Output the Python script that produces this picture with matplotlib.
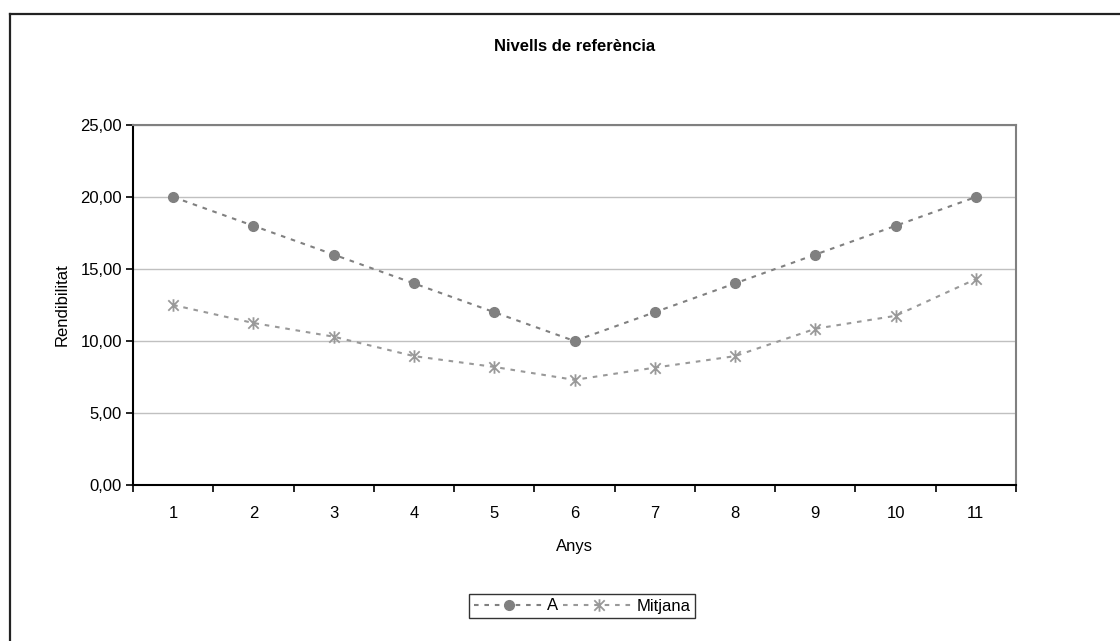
import matplotlib
matplotlib.use("Agg")
import matplotlib.pyplot as plt
from matplotlib.path import Path
from matplotlib.lines import Line2D
from matplotlib.ticker import FixedLocator, FuncFormatter

plt.rcParams['font.family'] = ['Liberation Sans', 'DejaVu Sans']

# Dades
anys = list(range(1, 12))
serie_a = [20, 18, 16, 14, 12, 10, 12, 14, 16, 18, 20]
mitjana = [12.5, 11.25, 10.3, 8.95, 8.2, 7.3, 8.15, 8.95, 10.85, 11.75, 14.3]
y_ticks = [0, 5, 10, 15, 20, 25]

titol = "Nivells de referència"
etiqueta_x = "Anys"
etiqueta_y = "Rendibilitat"

# Marcador d'estrella: aspa amb una barra vertical
estrella = Path(
    [(-1, -1), (1, 1), (-1, 1), (1, -1), (0, -1.2), (0, 1.2)],
    [Path.MOVETO, Path.LINETO, Path.MOVETO, Path.LINETO, Path.MOVETO, Path.LINETO],
)

fig = plt.figure(figsize=(11.2, 6.41), dpi=100)
ax = fig.add_axes([133 / 1120, 1 - 485 / 641, (1016 - 133) / 1120, (485 - 125) / 641])

ax.set_ylim(0, 25)
ax.set_xlim(0.5, 11.5)

ax.yaxis.set_major_locator(FixedLocator(y_ticks))
ax.yaxis.set_major_formatter(FuncFormatter(lambda v, p: f"{v:.2f}".replace(".", ",")))
ax.grid(axis='y', color='#c0c0c0', linewidth=1.0)
ax.set_axisbelow(True)

# Marques de l'eix X entre categories, etiquetes centrades
ax.set_xticks([a + 0.5 for a in [0] + anys])
ax.set_xticklabels([])
ax.set_xticks(anys, minor=True)
ax.set_xticklabels([str(a) for a in anys], minor=True)
ax.tick_params(axis='x', which='minor', length=0, labelsize=12, pad=15)
ax.tick_params(axis='x', which='major', length=5, width=1.2, direction='out', color='black')
ax.tick_params(axis='y', length=5, width=1.2, direction='out', labelsize=12, pad=3)

for s in ('left', 'bottom'):
    ax.spines[s].set_color('black')
    ax.spines[s].set_linewidth(1.5)
for s in ('top', 'right'):
    ax.spines[s].set_color('#808080')
    ax.spines[s].set_linewidth(1.5)

ax.plot(anys, serie_a, color='#808080', linestyle=(0, (2.2, 2.8)), linewidth=1.5,
        marker='o', markersize=7, markerfacecolor='#808080', markeredgecolor='#808080',
        label='A', clip_on=False)
ax.plot(anys, mitjana, color='#999999', linestyle=(0, (2.2, 2.8)), linewidth=1.5,
        marker=estrella, markersize=9, markeredgewidth=1.3, markerfacecolor='none',
        markeredgecolor='#999999', label='Mitjana', clip_on=False)

ax.set_title(titol, fontsize=12, fontweight='bold', pad=0, y=1 + (125 - 47) / 360,
             va='center')
ax.set_xlabel(etiqueta_x, fontsize=12, labelpad=13)
ax.set_ylabel(etiqueta_y, fontsize=12, labelpad=8)

leg = fig.legend(loc='center', bbox_to_anchor=(582 / 1120, 1 - 606 / 641), ncol=2,
                 fontsize=12, frameon=True, fancybox=False, handlelength=4.3,
                 handletextpad=0.1, columnspacing=0.3, borderpad=0.25,
                 borderaxespad=0)
leg.get_frame().set_edgecolor('black')
leg.get_frame().set_linewidth(1.0)

# Marc exterior del gràfic
fig.add_artist(Line2D([9.5 / 1120, 9.5 / 1120], [0, 1 - 14 / 641], color='#222222',
                      linewidth=1.6, transform=fig.transFigure))
fig.add_artist(Line2D([9.5 / 1120, 1], [1 - 14 / 641, 1 - 14 / 641], color='#222222',
                      linewidth=1.6, transform=fig.transFigure))

fig.savefig("out.png", dpi=100)
